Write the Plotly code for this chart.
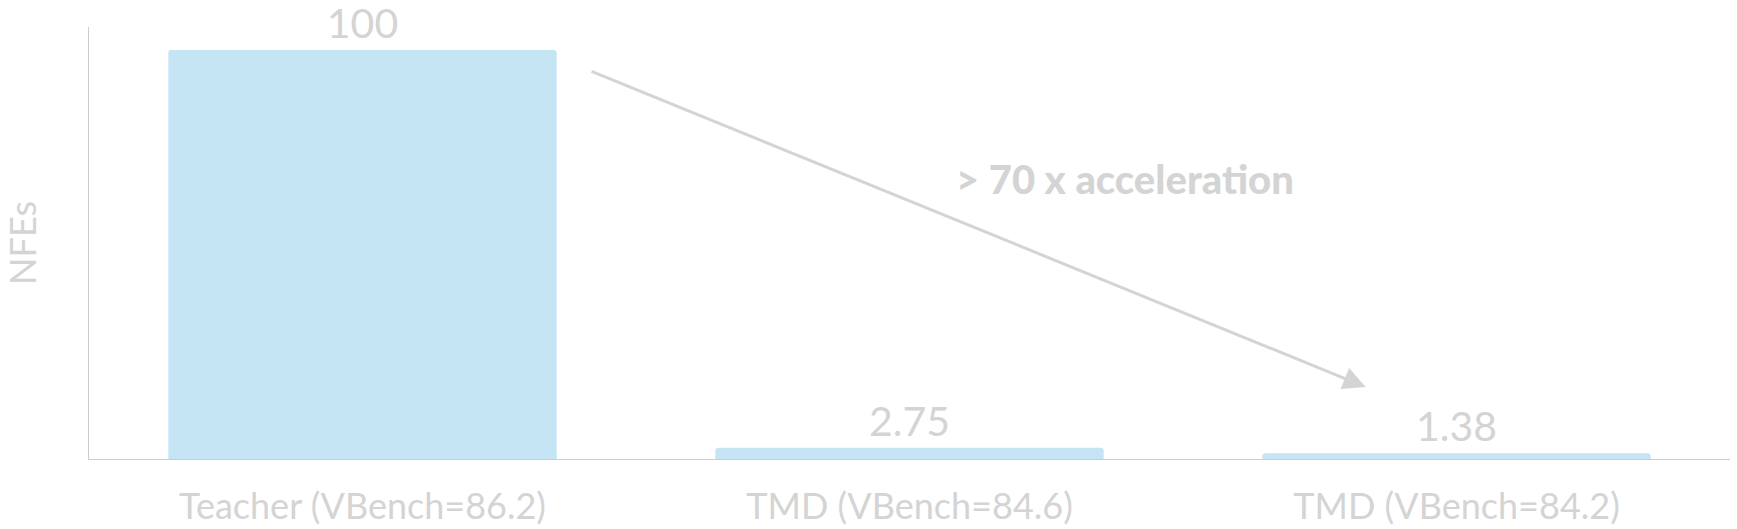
import plotly.graph_objects as go

categories = ["Teacher (VBench=86.2)", "TMD (VBench=84.6)", "TMD (VBench=84.2)"]
nfes = [100, 2.75, 1.38]
value_labels = ["100", "2.75", "1.38"]
y_title = "NFEs"
note_text = "> 70 x acceleration"

GREY = "#d4d4d4"
BAR = "#c5e5f5"
FONT = "Lato, 'Noto Sans', sans-serif"

fig = go.Figure()
fig.add_trace(go.Bar(
    x=categories, y=nfes,
    text=value_labels, textposition="outside",
    textfont=dict(size=41, color=GREY, family=FONT),
    marker=dict(color=BAR, line=dict(width=0), cornerradius=3),
    cliponaxis=False, width=0.71,
))

fig.add_annotation(
    x=1.834, y=17.6, xref="x", yref="y",
    ax=0.416, ay=94.9, axref="x", ayref="y",
    text="", showarrow=True, arrowhead=2, arrowsize=1.5,
    arrowwidth=3, arrowcolor=GREY,
)
fig.add_annotation(
    x=1.394, y=68.5, xref="x", yref="y",
    text=note_text, showarrow=False,
    font=dict(size=40, color=GREY, family=FONT, weight=900),
)

fig.update_layout(
    width=1737, height=529,
    margin=dict(l=89, r=7, t=27, b=70),
    plot_bgcolor="white", paper_bgcolor="white",
    showlegend=False,
    font=dict(family=FONT, color=GREY),
)
fig.update_xaxes(
    showline=True, linecolor="#cccccc", linewidth=1,
    showgrid=False, ticks="", ticklabelstandoff=16,
    tickfont=dict(size=36, color=GREY, family=FONT),
    range=[-0.5, 2.5], automargin=False,
)
fig.update_yaxes(
    showline=True, linecolor="#cccccc", linewidth=1,
    showgrid=False, zeroline=False, showticklabels=False, ticks="",
    range=[0, 105.6], automargin=False,
    title=dict(text=y_title, font=dict(size=36, color=GREY, family=FONT), standoff=56),
)

fig.write_html(
    "out.html",
    config={"displayModeBar": False},
    post_script="document.body.style.margin='0';document.body.style.overflow='hidden';",
)
